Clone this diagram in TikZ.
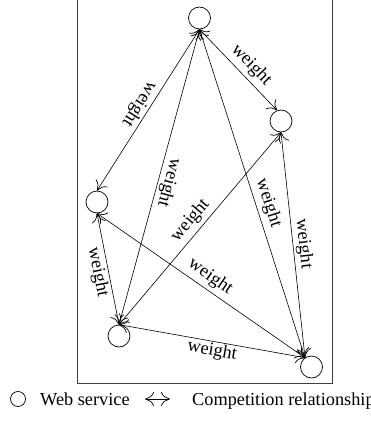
\documentclass[tikz,border=0pt]{standalone}
\usepackage{fontspec}
\setmainfont{Liberation Serif}
\usetikzlibrary{arrows.meta}
\begin{document}
\begin{tikzpicture}[x=1pt,y=-1pt,
  ws/.style={circle,draw,line width=0.7pt,minimum size=22pt,inner sep=0pt},
  rel/.style={line width=0.6pt,{Computer Modern Rightarrow[length=9pt,width=14pt,line width=0.7pt]}-{Computer Modern Rightarrow[length=9pt,width=14pt,line width=0.7pt]}},
  wt/.style={font=\fontsize{18.3}{21}\selectfont,sloped,allow upside down,inner sep=2pt},
  lgtext/.style={font=\fontsize{18.3}{21}\selectfont,inner sep=0pt,anchor=base west},
  ]
\useasboundingbox (0,0) rectangle (371,423);
\draw[line width=0.8pt, black!75] (77,-5) rectangle (332,383);

\node[ws] (A) at (199.5,18) {};
\node[ws] (B) at (281,121) {};
\node[ws] (C) at (97,202) {};
\node[ws] (D) at (119,336) {};
\node[ws] (E) at (311.5,367) {};

\draw[rel] (A.south) -- node[wt,pos=0.55,above=2pt] {weight} (B.110);
\draw[rel] (A.south) -- node[wt,pos=0.5,below] {weight} (C.north);
\draw[rel] (A.south) -- node[wt,pos=0.51,above] {weight} (D.north);
\draw[rel] (A.south) -- node[wt,pos=0.54,above=2pt] {weight} (E.125);
\draw[rel] (D.north) -- node[wt,pos=0.5,above=2pt] {weight} (B.south);
\draw[rel] (B.south) -- node[wt,pos=0.5,above] {weight} (E.125);
\draw[rel] (C.south) -- node[wt,pos=0.51,below] {weight} (D.north);
\draw[rel] (C.south) -- node[wt,pos=0.51,above=2pt] {weight} (E.125);
\draw[rel] (D.north) -- node[wt,pos=0.51,below=-1pt] {weight} (E.125);

\node[circle,draw,line width=0.7pt,minimum size=15pt,inner sep=0pt] (lws) at (18,399) {};
\node[lgtext] (lwst) at (40,405) {Web service};
\coordinate (la) at (145,399);
\coordinate (lb) at (170,399);
\draw[rel] (la) -- (lb);
\node[lgtext] (lrel) at (192,405) {Competition relationship};
\end{tikzpicture}
\end{document}
